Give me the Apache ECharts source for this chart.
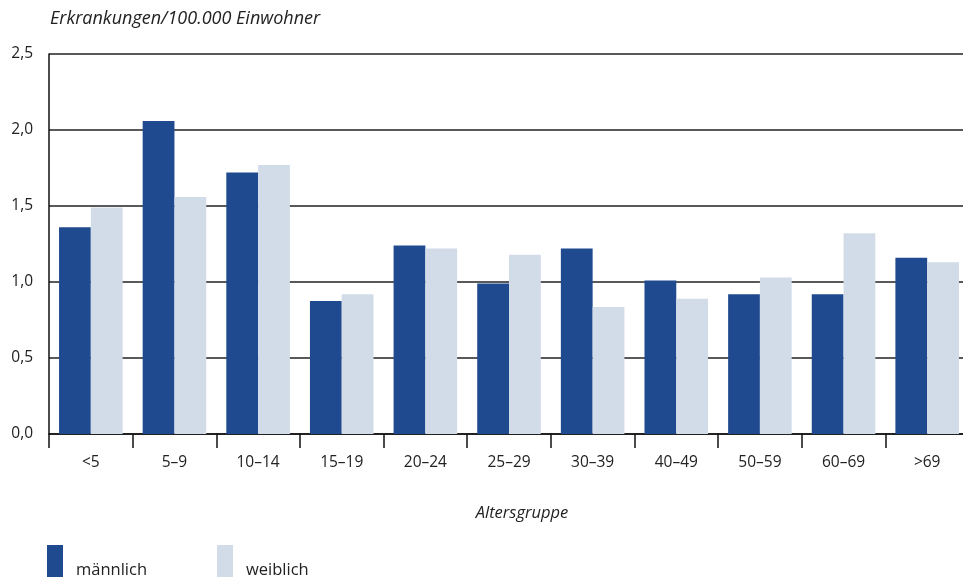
<!DOCTYPE html>
<html><head><meta charset="utf-8">
<script src="https://cdn.jsdelivr.net/npm/echarts@6/dist/echarts.min.js"></script>
<style>html,body{margin:0;padding:0;background:#fff;overflow:hidden}#c{width:975px;height:580px}</style>
</head><body><div id="c"></div>
<script>
const categories = ['<5','5–9','10–14','15–19','20–24','25–29','30–39','40–49','50–59','60–69','>69'];
const maennlich = [1.36, 2.06, 1.72, 0.875, 1.24, 0.99, 1.22, 1.01, 0.92, 0.92, 1.16];
const weiblich  = [1.49, 1.56, 1.77, 0.92, 1.22, 1.18, 0.835, 0.89, 1.03, 1.32, 1.13];
const yTicks = [0, 0.5, 1.0, 1.5, 2.0, 2.5];

const font = '"Open Sans", Lato, sans-serif';
const chart = echarts.init(document.getElementById('c'), null, {renderer:'canvas'});
chart.setOption({
  animation:false,
  textStyle:{fontFamily:font},
  grid:{left:49, right:6, top:54, bottom:146, containLabel:false},
  title:{text:'Erkrankungen/100.000 Einwohner', left:45, top:5,
    textStyle:{fontFamily:font, fontStyle:'italic', fontWeight:'normal', fontSize:18, color:'#222'}},
  legend:{left:42, top:540, itemWidth:16, itemHeight:32, itemGap:70, icon:'rect',
    formatter:'{a|{name}}',
    textStyle:{fontFamily:font, fontSize:16.5, color:'#222',
      rich:{a:{fontFamily:font, fontSize:16.5, color:'#222', padding:[18,0,0,8]}}},
    data:['männlich','weiblich']},
  xAxis:{type:'category', data:categories, name:'Altersgruppe', nameLocation:'middle', nameGap:71,
    nameTextStyle:{fontFamily:font, fontStyle:'italic', fontSize:16.5, color:'#222', padding:[0,0,0,26]},
    axisLine:{lineStyle:{color:'#111', width:1.5}},
    axisTick:{show:true, length:14, lineStyle:{color:'#111', width:1.5}},
    axisLabel:{fontFamily:font, fontSize:15.5, color:'#222', margin:21}},
  yAxis:{type:'value', min:yTicks[0], max:yTicks[yTicks.length-1], interval:0.5,
    axisLine:{show:true, lineStyle:{color:'#111', width:1.5}},
    axisTick:{show:false},
    splitLine:{show:true, lineStyle:{color:'#222', width:1.5}},
    axisLabel:{fontFamily:font, fontSize:15.5, color:'#222', margin:16,
      formatter:v=>v.toFixed(1).replace('.',',')}},
  series:[
    {name:'männlich', type:'bar', data:maennlich, barWidth:'38%', barGap:'0%',
      itemStyle:{color:'#1f4a8f'}},
    {name:'weiblich', type:'bar', data:weiblich, barWidth:'38%', barGap:'0%',
      itemStyle:{color:'#d2dce9'}}
  ]
});
</script></body></html>
